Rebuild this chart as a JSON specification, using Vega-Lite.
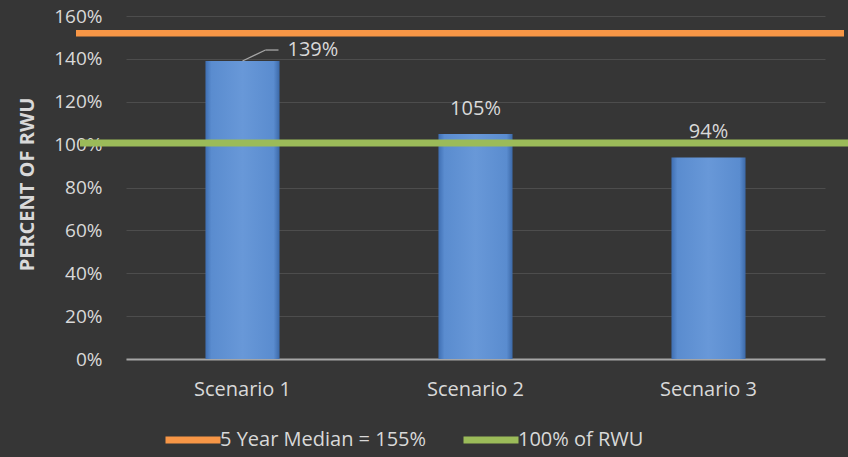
{
  "$schema": "https://vega.github.io/schema/vega-lite/v6.json",
  "width": 699,
  "height": 343,
  "autosize": {"type": "none"},
  "padding": {"left": 126, "top": 16, "right": 23, "bottom": 98},
  "background": "#363636",
  "config": {
    "view": {"stroke": null},
    "font": "Open Sans",
    "text": {"font": "Open Sans"}
  },
  "datasets": {
    "bars": [
      {"scenario": "Scenario 1", "value": 1.39},
      {"scenario": "Scenario 2", "value": 1.05},
      {"scenario": "Secnario 3", "value": 0.94}
    ],
    "refs": [
      {"series": "5 Year Median = 155%", "value": 1.52},
      {"series": "100% of RWU", "value": 1.007}
    ]
  },
  "layer": [
    {
      "data": {"name": "bars"},
      "mark": {
        "type": "bar",
        "color": {
          "gradient": "linear",
          "x1": 0, "y1": 0, "x2": 1, "y2": 0,
          "stops": [
            {"offset": 0, "color": "#3f6fb3"},
            {"offset": 0.08, "color": "#5a8ccf"},
            {"offset": 0.5, "color": "#6898d8"},
            {"offset": 0.92, "color": "#5a8ccf"},
            {"offset": 1, "color": "#3c69a8"}
          ]
        }
      },
      "encoding": {
        "x": {
          "field": "scenario", "type": "nominal", "sort": null,
          "scale": {"paddingInner": 0.682, "paddingOuter": 0.341},
          "axis": {
            "title": null, "ticks": false, "labelAngle": 0,
            "labelFontSize": 20, "labelColor": "#d9d9d9", "labelPadding": 20,
            "domainColor": "#a6a6a6", "domainWidth": 2
          }
        },
        "y": {
          "field": "value", "type": "quantitative",
          "scale": {"domain": [0, 1.6], "nice": false},
          "axis": {
            "values": [0, 0.2, 0.4, 0.6, 0.8, 1.0, 1.2, 1.4, 1.6],
            "format": ".0%", "domain": false, "ticks": false,
            "labelFontSize": 19, "labelColor": "#d9d9d9", "labelPadding": 24,
            "gridColor": "#4d4d4d", "gridWidth": 1,
            "title": "PERCENT OF RWU", "titleFontSize": 20, "titleFontWeight": "bold",
            "titleColor": "#d9d9d9", "titleX": -99, "titleY": 168, "titleBaseline": "middle", "titleAlign": "center"
          }
        }
      }
    },
    {
      "data": {"name": "bars"},
      "transform": [{"filter": "datum.scenario == 'Scenario 1'"}],
      "mark": {"type": "rule", "color": "#a6a6a6", "strokeWidth": 1.3, "x2Offset": 23, "y2Offset": -11},
      "encoding": {
        "x": {"field": "scenario", "type": "nominal", "sort": null},
        "x2": {"field": "scenario"},
        "y": {"field": "value", "type": "quantitative"},
        "y2": {"field": "value"}
      }
    },
    {
      "data": {"name": "bars"},
      "transform": [{"filter": "datum.scenario == 'Scenario 1'"}],
      "mark": {"type": "rule", "color": "#a6a6a6", "strokeWidth": 1.3, "xOffset": 23, "x2Offset": 36, "yOffset": -11, "y2Offset": -11},
      "encoding": {
        "x": {"field": "scenario", "type": "nominal", "sort": null},
        "x2": {"field": "scenario"},
        "y": {"field": "value", "type": "quantitative"},
        "y2": {"field": "value"}
      }
    },
    {
      "data": {"name": "bars"},
      "transform": [{"filter": "datum.scenario == 'Scenario 1'"}],
      "mark": {"type": "text", "fontSize": 20, "color": "#d9d9d9", "align": "left", "baseline": "middle", "dx": 45, "dy": -11},
      "encoding": {
        "x": {"field": "scenario", "type": "nominal", "sort": null},
        "y": {"field": "value", "type": "quantitative"},
        "text": {"field": "value", "format": ".0%"}
      }
    },
    {
      "data": {"name": "bars"},
      "transform": [{"filter": "datum.scenario != 'Scenario 1'"}],
      "mark": {"type": "text", "fontSize": 20, "color": "#d9d9d9", "align": "center", "baseline": "middle", "dy": -25},
      "encoding": {
        "x": {"field": "scenario", "type": "nominal", "sort": null},
        "y": {"field": "value", "type": "quantitative"},
        "text": {"field": "value", "format": ".0%"}
      }
    },
    {
      "data": {"name": "refs"},
      "transform": [{"filter": "datum.series == '5 Year Median = 155%'"}],
      "mark": {"type": "rule", "strokeWidth": 6.5, "xOffset": -166.5, "x2Offset": 135.5},
      "encoding": {
        "x": {"datum": "Scenario 1", "type": "nominal"},
        "x2": {"datum": "Secnario 3"},
        "y": {"field": "value", "type": "quantitative"},
        "color": {
          "field": "series", "type": "nominal",
          "scale": {"domain": ["5 Year Median = 155%", "100% of RWU"], "range": ["#f79646", "#9bbb59"]},
          "legend": {
            "title": null, "orient": "none", "direction": "horizontal",
            "legendX": 36, "legendY": 393,
            "symbolType": "stroke", "symbolSize": 3025, "symbolStrokeWidth": 7,
            "labelFontSize": 20, "labelColor": "#d9d9d9", "labelOffset": -4, "labelLimit": 400,
            "columnPadding": 22, "padding": 0
          }
        }
      }
    },
    {
      "data": {"name": "refs"},
      "transform": [{"filter": "datum.series == '100% of RWU'"}],
      "mark": {"type": "rule", "strokeWidth": 7, "xOffset": -162.5, "x2Offset": 139.5},
      "encoding": {
        "x": {"datum": "Scenario 1", "type": "nominal"},
        "x2": {"datum": "Secnario 3"},
        "y": {"field": "value", "type": "quantitative"},
        "color": {"field": "series", "type": "nominal"}
      }
    }
  ]
}
